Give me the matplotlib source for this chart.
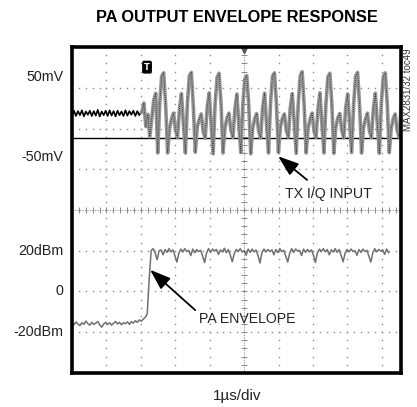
import numpy as np
import matplotlib
matplotlib.use('Agg')
import matplotlib.pyplot as plt

plt.rcParams['font.family'] = ['Liberation Sans', 'DejaVu Sans']

# scope screen: 10 x 8 divisions, 1us/div
dx = 0.0575  # sample step in divisions

# TX I/Q input, pre-trigger noise band (div)
tx_pre = [6.32, 6.44, 6.31, 6.43, 6.33, 6.45, 6.30, 6.42, 6.34, 6.44,
          6.31, 6.43, 6.32, 6.46, 6.30, 6.42, 6.33, 6.44, 6.31, 6.45,
          6.32, 6.43, 6.30, 6.44, 6.33, 6.42, 6.31, 6.45, 6.32, 6.43,
          6.34, 6.44, 6.31, 6.43, 6.33, 6.42]
# TX I/Q input after trigger (div)
tx_burst = [6.40, 6.63, 6.05, 6.35, 5.80, 6.25, 6.70, 6.87, 5.40, 6.60,
            7.28, 7.37, 6.60, 5.40, 6.00, 6.25, 6.38, 5.95, 5.78, 6.50, 6.86, 6.10, 5.40, 6.62,
            7.30, 7.38, 6.55, 5.42, 6.05, 6.22, 6.36, 5.92, 5.76, 6.52, 6.88, 6.12, 5.38, 6.60,
            7.26, 7.36, 6.62, 5.40, 6.02, 6.26, 6.38, 5.96, 5.78, 6.48, 6.85, 6.08, 5.41, 6.58,
            7.22, 7.30, 6.58, 5.38, 6.00, 6.24, 6.37, 5.94, 5.77, 6.50, 6.87, 6.10, 5.40, 6.62,
            7.29, 7.37, 6.60, 5.41, 6.04, 6.25, 6.36, 5.95, 5.79, 6.52, 6.86, 6.11, 5.39, 6.60,
            7.30, 7.40, 6.57, 5.40, 6.01, 6.23, 6.38, 5.93, 5.78, 6.49, 6.88, 6.09, 5.40, 6.61,
            7.27, 7.36, 6.61, 5.39, 6.03, 6.26, 6.37, 5.96, 5.77, 6.51, 6.85, 6.12, 5.41, 6.59,
            7.29, 7.38, 6.59, 5.40, 6.02, 6.24, 6.38, 5.94, 5.78, 6.50, 6.87, 6.10, 5.39, 6.62,
            7.28, 7.37, 6.60, 5.41, 6.00, 6.25, 6.36, 5.95, 5.79, 6.51, 6.86, 6.11, 5.40, 6.60]
tx_start = 2.03

# PA envelope (div)
pa = [1.22, 1.18, 1.25, 1.20, 1.16, 1.23, 1.19, 1.27, 1.21, 1.17,
      1.24, 1.19, 1.22, 1.26, 1.18, 1.12, 1.20, 1.24, 1.19, 1.23,
      1.17, 1.22, 1.26, 1.20, 1.24, 1.18, 1.23, 1.21, 1.25, 1.19,
      1.26, 1.22, 1.28, 1.24, 1.30, 1.27, 1.32, 1.36,
      1.45, 2.30, 3.00, 3.05, 2.95, 2.78, 3.00,
      3.02, 2.90, 3.03, 2.96, 3.05, 2.97, 3.02, 2.88, 2.72, 2.94, 3.04, 2.97, 3.05, 2.98,
      3.01, 2.88, 3.04, 2.95, 3.03, 2.98, 3.01, 2.87, 2.71, 2.95, 3.05, 2.96, 3.04, 2.99,
      3.03, 2.91, 3.02, 2.97, 3.06, 2.95, 3.03, 2.89, 2.73, 2.93, 3.03, 2.98, 3.05, 2.97,
      3.00, 2.89, 3.04, 2.96, 3.04, 2.97, 3.02, 2.88, 2.70, 2.96, 3.04, 2.97, 3.03, 2.98,
      3.02, 2.90, 3.03, 2.95, 3.05, 2.98, 3.01, 2.87, 2.72, 2.94, 3.05, 2.96, 3.04, 2.99,
      3.01, 2.88, 3.04, 2.96, 3.03, 2.97, 3.02, 2.89, 2.71, 2.95, 3.04, 2.98, 3.05, 2.97,
      3.03, 2.90, 3.02, 2.97, 3.05, 2.96, 3.03, 2.88, 2.73, 2.94, 3.03, 2.97, 3.04, 2.98,
      3.00, 2.89, 3.03, 2.96, 3.04, 2.98, 3.01, 2.87, 2.72, 2.95, 3.05, 2.97, 3.03, 2.99,
      3.02, 2.91, 3.04, 2.95]

y_labels = ['50mV', '-50mV', '20dBm', '0', '-20dBm']
y_label_pos = [7.27, 5.30, 3.0, 2.0, 1.0]
tx_ref = 5.78

fig = plt.figure(figsize=(4.17, 4.07), dpi=100)
ax = fig.add_axes([0.1727, 0.084, 0.789, 0.800])
ax.set_xlim(0, 9.56)
ax.set_ylim(0, 8)
ax.set_xticks([])
ax.set_yticks([])
for s in ax.spines.values():
    s.set_linewidth(2.6)

# dotted graticule
gc = '#8a8a8a'
xs = np.arange(0, 10.01, 0.2)
ys = np.arange(0, 8.01, 0.2)
for gy in range(0, 9):
    ax.plot(xs, np.full_like(xs, gy), ls='none', marker='s', ms=1.0, color=gc, mew=0)
for gx in range(1, 10):
    ax.plot(np.full_like(ys, gx), ys, ls='none', marker='s', ms=1.0, color=gc, mew=0)
# center cross with minor ticks
ax.axhline(4, color=gc, lw=0.6, ls=(0, (1.5, 1.5)))
ax.axvline(5, color=gc, lw=0.6, ls=(0, (1.5, 1.5)))
ax.plot(xs, np.full_like(xs, 4), ls='none', marker='|', ms=4, color=gc, mew=0.7)
ax.plot(np.full_like(ys, 5), ys, ls='none', marker='_', ms=4, color=gc, mew=0.7)

# channel 1 reference line
ax.axhline(tx_ref, color='black', lw=1.0)

# traces
x_pre = np.arange(len(tx_pre)) * dx
ax.plot(x_pre, tx_pre, color='black', lw=1.2)
x_burst = tx_start + np.arange(len(tx_burst)) * dx
ax.plot(x_burst, tx_burst, color='#969696', lw=2.6)
ax.plot(x_burst, tx_burst, color='#2a2a2a', lw=0.6, ls=(0, (1, 1.5)))
x_pa = np.arange(len(pa)) * dx
ax.plot(x_pa, pa, color='#707070', lw=1.1)

# trigger marks
ax.text(2.18, 7.51, 'T', ha='center', va='center', fontsize=6, fontweight='bold',
        color='white', family='DejaVu Sans',
        bbox=dict(boxstyle='round,pad=0.15', fc='black', ec='black'))
ax.plot([5], [7.93], marker='v', ms=5, color='#555555', clip_on=False)

# annotations
ap = dict(arrowstyle='-|>,head_length=0.7,head_width=0.25', color='black', lw=1.3,
          mutation_scale=18, shrinkA=0, shrinkB=0)
ax.annotate('', xy=(5.99, 5.32), xytext=(6.83, 4.74), arrowprops=ap)
ax.annotate('', xy=(2.27, 2.53), xytext=(3.58, 1.54), arrowprops=ap)
ax.text(6.19, 4.39, 'TX I/Q INPUT', fontsize=10.2, va='center', ha='left', color='#222222')
ax.text(3.69, 1.32, 'PA ENVELOPE', fontsize=10.2, va='center', ha='left', color='#222222')

for lab, yp in zip(y_labels, y_label_pos):
    ax.text(-0.26, yp, lab, fontsize=10.3, ha='right', va='center', color='#222222')

fig.text(0.568, 0.958, 'PA OUTPUT ENVELOPE RESPONSE', ha='center', va='center',
         fontsize=11.8, fontweight='bold')
fig.text(0.568, 0.027, '1\u00b5s/div', ha='center', va='center', fontsize=11, color='#222222')
fig.text(0.978, 0.78, 'MAX2831/32 toc49', rotation=90, ha='center', va='center',
         fontsize=7, color='#333333')

fig.savefig('out.png', dpi=100)
